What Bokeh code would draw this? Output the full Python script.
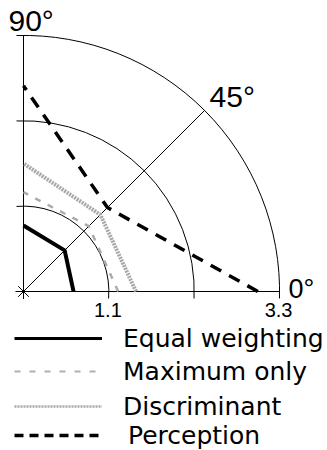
import numpy as np
from bokeh.plotting import figure
from bokeh.models import Range1d, Label, Legend, LegendItem
from bokeh.embed import file_html
from bokeh.resources import INLINE

# ---------------- data ----------------
angles_deg = [0, 45, 90]
angle_labels = ["0°", "45°", "90°"]
ring_radii = [1.1, 2.2, 3.3]
ring_labels = ["1.1", "", "3.3"]

series_names = ["Equal weighting", "Maximum only", "Discriminant", "Perception"]
equal_weighting = [0.645, 0.75, 0.85]
maximum_only = [1.22, 1.19, 1.28]
discriminant = [1.45, 1.40, 1.65]
perception = [3.02, 1.53, 2.65]

# ---------------- layout ----------------
W, H = 327, 450
S = 77.6            # pixels per radial unit
OX, OY = 23, 291    # origin position in figure pixels (from left / top)
rmax = max(ring_radii)

p = figure(width=W, height=H, output_backend="svg", toolbar_location=None,
           x_range=Range1d(-OX / S, (W - OX) / S),
           y_range=Range1d(-(H - OY) / S, OY / S),
           x_axis_type=None, y_axis_type=None,
           min_border=0, min_border_left=0, min_border_right=0,
           min_border_top=0, min_border_bottom=0)
p.grid.visible = False
p.outline_line_color = None
p.background_fill_color = "white"

th = np.radians(angles_deg)

# rings (slightly overshooting the axes, as in the original)
for r in ring_radii:
    ext = 7.0 / (r * S)
    p.arc(x=0, y=0, radius=r, start_angle=-ext, end_angle=np.pi / 2 + ext,
          line_color="black", line_width=1)

# spokes
x0 = [-8.0 / S if a == 0 else 0 for a in angles_deg]
p.segment(x0=x0, y0=[0] * len(th), x1=list(rmax * np.cos(th)), y1=list(rmax * np.sin(th)),
          line_color="black", line_width=1)

p.scatter(x=[0], y=[0], marker="asterisk", size=15, line_color="black", line_width=1)

# series
styles = {
    "Equal weighting": dict(line_color="black", line_width=4),
    "Maximum only": dict(line_color="#ababab", line_width=2.5, line_dash="6 8"),
    "Discriminant": dict(line_color="#a8a8a8", line_width=4, line_dash="2 1"),
    "Perception": dict(line_color="black", line_width=3.5, line_dash="12 9"),
}
legend_styles = {
    "Equal weighting": dict(line_color="black", line_width=3),
    "Maximum only": dict(line_color="#b0b0b0", line_width=2, line_dash="6 9"),
    "Discriminant": dict(line_color="#a8a8a8", line_width=2.5, line_dash="2 1"),
    "Perception": dict(line_color="black", line_width=3.5, line_dash="9 6"),
}
# legend row centres (page px from top) and text indent
legend_rows = {"Equal weighting": (338, 21), "Maximum only": (371, 21),
               "Discriminant": (406, 21), "Perception": (435, 26)}
ROW_H = 30
values = [equal_weighting, maximum_only, discriminant, perception]

for name, vals in zip(series_names, values):
    r = np.array(vals)
    p.line(x=list(r * np.cos(th)), y=list(r * np.sin(th)), **styles[name])
    lr = p.line(x=[np.nan], y=[np.nan], **legend_styles[name])
    cy, standoff = legend_rows[name]
    leg = Legend(items=[LegendItem(label=name, renderers=[lr])],
                 location=(14, H - (cy + ROW_H / 2)), orientation="vertical",
                 glyph_width=88, glyph_height=ROW_H, label_height=ROW_H, spacing=0,
                 padding=0, margin=0, label_standoff=standoff,
                 label_text_font="DejaVu Sans", label_text_font_size="25px",
                 label_text_color="black", label_text_baseline="middle",
                 border_line_alpha=0, background_fill_alpha=0)
    p.add_layout(leg)

# angle labels
angle_fmt = {0: dict(x_offset=9, y_offset=3, size="27px"),
             45: dict(x_offset=5, y_offset=14, size="30px"),
             90: dict(x_offset=-15, y_offset=15, size="30px")}
for a, t, lab in zip(angles_deg, th, angle_labels):
    f = angle_fmt[a]
    p.add_layout(Label(x=rmax * np.cos(t), y=rmax * np.sin(t), text=lab,
                       x_offset=f["x_offset"], y_offset=f["y_offset"],
                       text_font="Liberation Sans", text_font_size=f["size"],
                       text_align="left", text_baseline="alphabetic", text_color="black"))

# radius labels
for r, lab in zip(ring_radii, ring_labels):
    if lab:
        p.add_layout(Label(x=r, y=0, text=lab, x_offset=-1, y_offset=-11,
                           text_font="Liberation Sans", text_font_size="20px",
                           text_align="center", text_baseline="top", text_color="black"))

open("out.html", "w").write(file_html(p, INLINE))
